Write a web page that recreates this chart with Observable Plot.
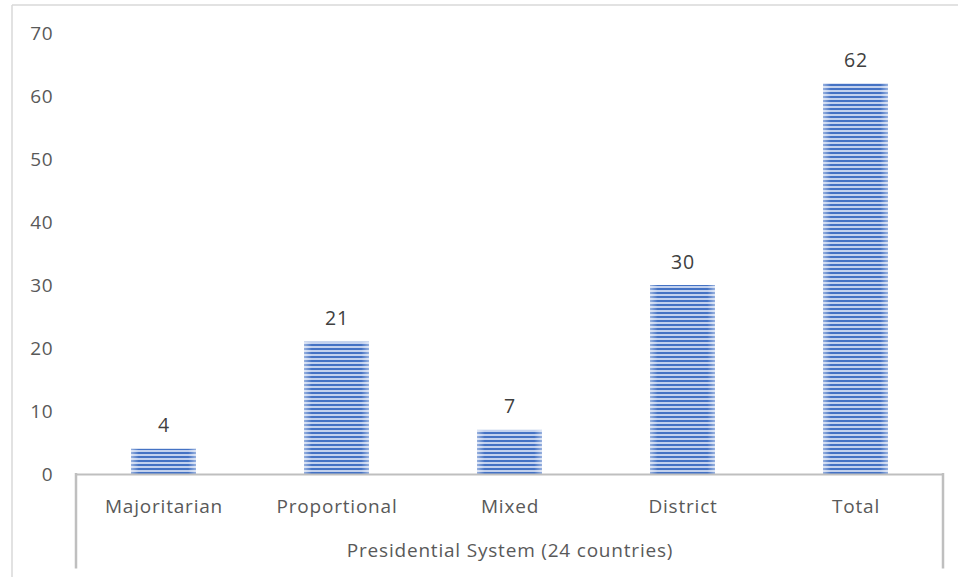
<!DOCTYPE html>
<html>
<head>
<meta charset="utf-8">
<script src="https://cdn.jsdelivr.net/npm/d3@7"></script>
<script src="https://cdn.jsdelivr.net/npm/@observablehq/plot@0.6"></script>
<style>
  html, body { margin: 0; padding: 0; background: #fff; }
  svg { display: block; }
  svg text { letter-spacing: 0.8px; }
</style>
</head>
<body>
<div id="chart"></div>
<script>
const categories = ["Majoritarian", "Proportional", "Mixed", "District", "Total"];
const values = [4, 21, 7, 30, 62];
const yTicks = [0, 10, 20, 30, 40, 50, 60, 70];
const groupLabel = "Presidential System (24 countries)";

const data = categories.map((c, i) => ({category: c, value: values[i]}));

const font = "'Open Sans', 'DejaVu Sans', sans-serif";

const plot = Plot.plot({
  width: 958,
  height: 577,
  marginLeft: 76,
  marginRight: 15,
  marginTop: 33,
  marginBottom: 103,
  style: {fontFamily: font, fontSize: "19px", color: "#595959", background: "#fff"},
  x: {domain: categories, paddingInner: 0.625, paddingOuter: 0.3125, label: null},
  y: {domain: [0, 70], label: null},
  marks: [
    Plot.axisY({ticks: yTicks, tickSize: 0, tickPadding: 23, fontSize: 19, fill: "#595959", label: null}),
    Plot.axisX({tickSize: 0, tickPadding: 25, fontSize: 19, fill: "#595959", label: null}),
    Plot.barY(data, {x: "category", y: "value", fill: "url(#stripes)"}),
    Plot.barY(data, {x: "category", y: "value", fill: "url(#edgefade)"}),
    Plot.ruleY([0], {stroke: "#bfbfbf", strokeWidth: 2}),
    Plot.text(data, {x: "category", y: "value", text: d => String(d.value), lineAnchor: "bottom", dy: -17, fontSize: 19.5, fill: "#404040"}),
    Plot.text([groupLabel], {frameAnchor: "bottom", dy: 82, fontSize: 19, fill: "#595959"})
  ]
});

const svg = d3.select(plot);
const defs = svg.insert("defs", ":first-child");
const pat = defs.append("pattern")
  .attr("id", "stripes").attr("patternUnits", "userSpaceOnUse")
  .attr("width", 8).attr("height", 4);
pat.append("rect").attr("width", 8).attr("height", 4).attr("fill", "#c2d1ee");
pat.append("rect").attr("width", 8).attr("height", 2).attr("fill", "#4472c4");
const grad = defs.append("linearGradient").attr("id", "edgefade")
  .attr("x1", 0).attr("x2", 1).attr("y1", 0).attr("y2", 0);
grad.append("stop").attr("offset", "0%").attr("stop-color", "#fff").attr("stop-opacity", 0.45);
grad.append("stop").attr("offset", "12%").attr("stop-color", "#fff").attr("stop-opacity", 0);
grad.append("stop").attr("offset", "88%").attr("stop-color", "#fff").attr("stop-opacity", 0);
grad.append("stop").attr("offset", "100%").attr("stop-color", "#fff").attr("stop-opacity", 0.45);

// category group box lines (computed from scales)
const xs = plot.scale("x");
const ys = plot.scale("y");
const [x0, x1] = xs.range;
const yBase = ys.apply(0);
const yEnd = ys.apply(-15);
[x0, x1].forEach(x => {
  svg.append("line").attr("x1", x).attr("x2", x).attr("y1", yBase - 1).attr("y2", yEnd)
    .attr("stroke", "#bfbfbf").attr("stroke-width", 2.5);
});
// outer chart border (left and top)
svg.append("line").attr("x1", 12).attr("x2", 12).attr("y1", 5).attr("y2", 577).attr("stroke", "#d9d9d9").attr("stroke-width", 1.5);
svg.append("line").attr("x1", 12).attr("x2", 958).attr("y1", 5).attr("y2", 5).attr("stroke", "#d9d9d9").attr("stroke-width", 1.5);

document.getElementById("chart").appendChild(plot);
</script>
</body>
</html>
